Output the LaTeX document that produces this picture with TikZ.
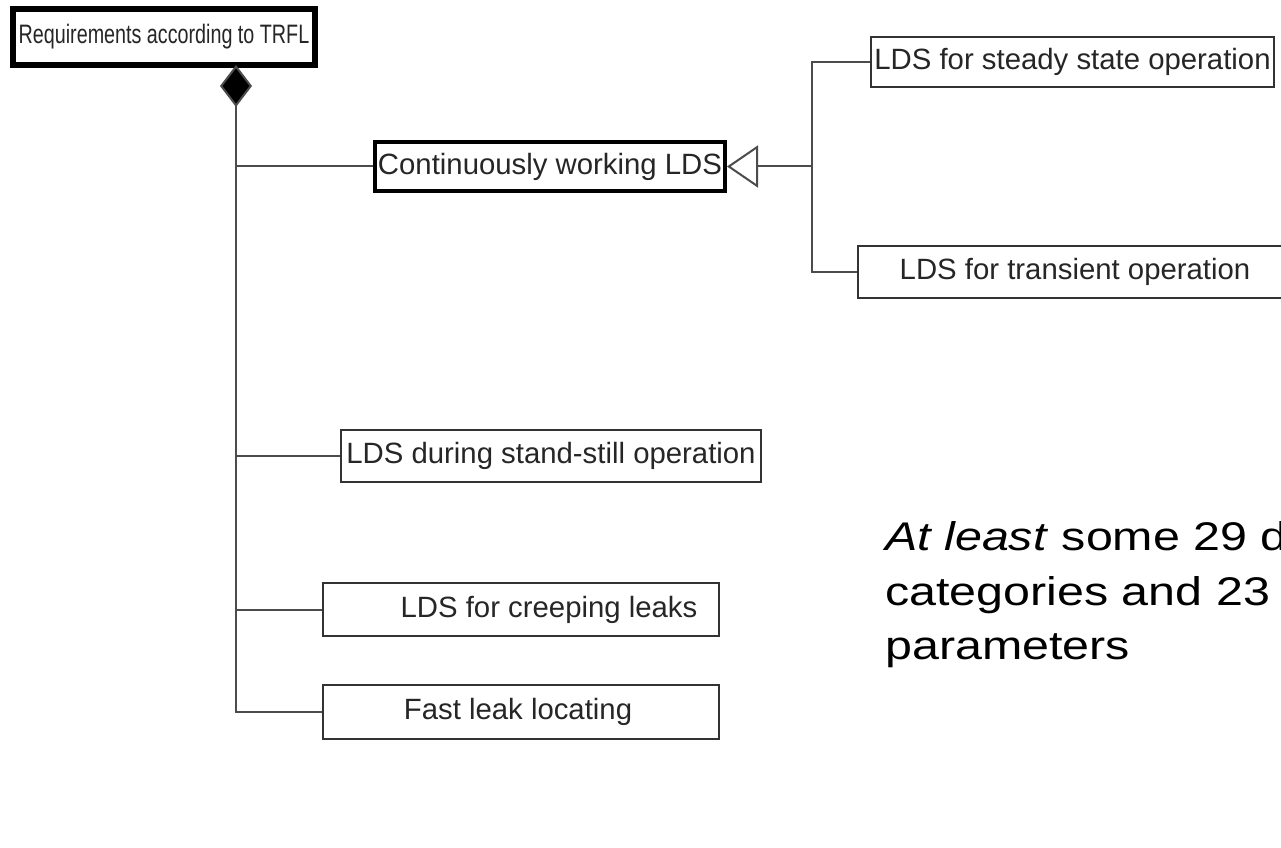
\documentclass[tikz,border=0pt]{standalone}
\usepackage{fontspec}
\setmainfont{Liberation Sans}
\usetikzlibrary{arrows.meta}
\begin{document}
\begin{tikzpicture}[x=0.75pt,y=-0.75pt,
  box/.style={draw=black!80, line width=1.8pt, fill=white, inner sep=0pt, text=black!85,
    font=\fontsize{22pt}{26pt}\selectfont},
  thickbox/.style={box, draw=black, line width=3pt},
  heavybox/.style={box, draw=black, line width=4.5pt},
  conn/.style={draw=black!70, line width=1.5pt},
  btxt/.style={anchor=base west, inner sep=0pt, font=\fontsize{30pt}{40pt}\selectfont}
]
\useasboundingbox (0,0) rectangle (1281,848);
\clip (0,0) rectangle (1281,848);
\fill[white] (0,0) rectangle (1281,848);

% boxes
\node[heavybox, minimum width=226.5pt, minimum height=42pt] (top) at (164,37)
  {\fontsize{20pt}{24pt}\selectfont\scalebox{0.74}[1]{Requirements according to TRFL}};
\node[thickbox, minimum width=262.5pt, minimum height=36.75pt] (cont) at (550,166.5)
  {Continuously working LDS};
\node[box, minimum width=302.25pt, minimum height=37.5pt] (steady) at (1072.5,62)
  {LDS for steady state operation};
\node[box, minimum width=325.5pt, minimum height=39pt] (trans) at (1075,272)
  {LDS for transient operation};
\node[box, minimum width=315pt, minimum height=39pt] (stand) at (551,456)
  {LDS during stand-still operation};
\node[box, minimum width=297pt, minimum height=39.75pt] (creep) at (521,609.5) {};
\node[box, draw=none, fill=none] (creeptxt) at (549,609.5) {LDS for creeping leaks};
\node[box, minimum width=297pt, minimum height=40.5pt] (fast) at (521,712) {};
\node[box, draw=none, fill=none] (fasttxt) at (518,712) {Fast leak locating};

% trunk with composition diamond
\coordinate (d0) at (236,65);
\draw[conn, {Diamond[length=31.5pt,width=24pt,fill=black]}-] (d0) |- (fast.west);
\draw[conn] (cont.west) -- (cont.west -| d0);
\draw[conn] (stand.west) -- (stand.west -| d0);
\draw[conn] (creep.west) -- (creep.west -| d0);

% generalisation
\coordinate (j) at (812,166.5);
\draw[conn, -{Triangle[open,length=23.25pt,width=31.5pt,fill=white]}] (j) -- (cont.east);
\draw[conn] (steady.west) -- (steady.west -| j) -- (trans.west -| j) -- (trans.west);

% side text
\node[btxt] (t1) at (885,550) {\scalebox{1.21}[1]{\textit{At least} some 29 d}};
\node[btxt] (t2) at (885,605) {\scalebox{1.21}[1]{categories and 23 d}};
\node[btxt] (t3) at (885,659) {\scalebox{1.21}[1]{parameters}};
\end{tikzpicture}
\end{document}
